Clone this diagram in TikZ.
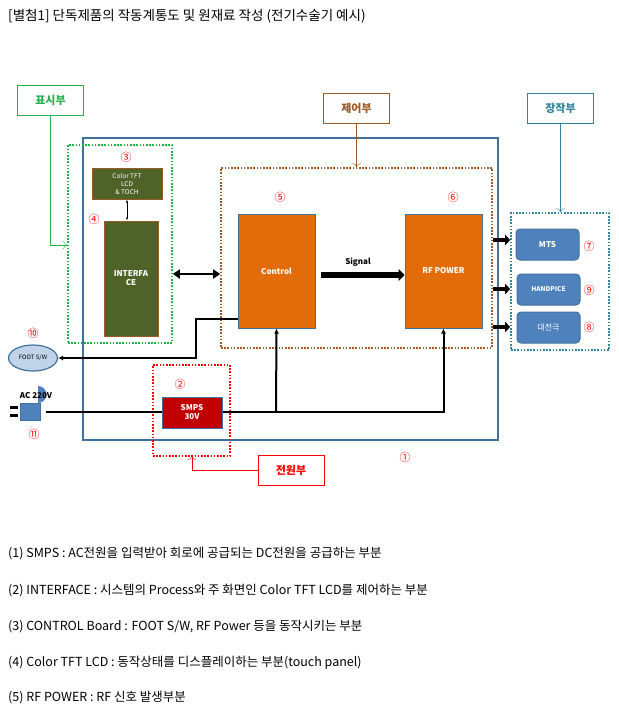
\documentclass[tikz,border=0pt]{standalone}
\usepackage{fontspec}
\setmainfont{Liberation Serif}
\newfontfamily\cjk{Noto Sans CJK KR}
\usetikzlibrary{arrows.meta,shapes.geometric}
\definecolor{gdot}{HTML}{22B14C}
\definecolor{bdot}{HTML}{9C5B26}
\definecolor{sdot}{HTML}{31849B}
\definecolor{mainb}{HTML}{41719C}
\definecolor{orng}{HTML}{E36C0A}
\definecolor{dgrn}{HTML}{4F6228}
\definecolor{smps}{HTML}{C00000}
\definecolor{bbox}{HTML}{4F81BD}
\tikzset{
  every node/.style={font=\cjk},
  dotbox/.style={draw,line width=1.6pt,dash pattern=on 1.6pt off 1.6pt},
  tag/.style={draw,fill=white,minimum width=66pt,minimum height=30pt,font=\cjk\bfseries\fontsize{11}{12}\selectfont},
  num/.style={text=red,font=\cjk\fontsize{11}{12}\selectfont,inner sep=0},
  blk/.style={draw=mainb,line width=1pt,text=white,font=\cjk\bfseries\fontsize{8}{9}\selectfont,align=center,inner sep=0},
  rbox/.style={draw=mainb,fill=bbox,line width=1pt,rounded corners=4pt,text=white,font=\cjk\bfseries\fontsize{8}{9}\selectfont,minimum width=63pt,minimum height=31pt,inner sep=0},
  wire/.style={line width=2pt,-{Latex[length=5pt,width=5pt]}},
  fat/.style={-{Triangle[length=6pt,width=12pt]},line width=6pt},
  txt/.style={anchor=west,font=\cjk\fontsize{12.5}{14}\selectfont,inner sep=0}
}
\begin{document}
\begin{tikzpicture}[x=1pt,y=-1pt]
\useasboundingbox (0,0) rectangle (619,716);
\node[anchor=west,inner sep=0,font=\cjk\fontsize{13.5}{15}\selectfont] (title) at (8,16) {[별첨1] 단독제품의 작동계통도 및 원재료 작성 (전기수술기 예시)};
% main box
\draw[mainb,line width=1.5pt] (83,138) rectangle (498,440);
% dotted groups
\node[dotbox,draw=gdot,minimum width=104pt,minimum height=198pt,inner sep=0] (gdisp) at (120,244) {};
\node[dotbox,draw=bdot,minimum width=271pt,minimum height=180pt,inner sep=0] (gctrl) at (356.5,258) {};
\node[dotbox,draw=sdot,minimum width=98pt,minimum height=137pt,inner sep=0] (gact) at (560,281.5) {};
\node[dotbox,draw=red,line width=1.2pt,minimum width=77pt,minimum height=91pt,inner sep=0] (gpow) at (191.5,410.5) {};
% tags
\node[tag,draw=gdot,text=gdot] (t1) at (50.5,100.5) {표시부};
\node[tag,draw=bdot,text=bdot] (t2) at (356.5,108) {제어부};
\node[tag,draw=sdot,text=sdot] (t3) at (560.5,108) {장작부};
\node[tag,draw=red,text=red] (t4) at (291,470.5) {전원부};
\draw[gdot,-{To[length=4pt]}] (t1.south) |- (gdisp.west|-0,245);
\draw[bdot,-{To[length=4pt]}] (t2.south) -- (gctrl.north-|t2.south);
\draw[sdot,-{To[length=4pt]}] (t3.south) -- (gact.north-|t3.south);
\draw[red,-{To[length=4pt]}] (t4.west) -| (192,456);
% blocks
\node[blk,fill=dgrn,draw=bdot,minimum width=70pt,minimum height=31pt,font=\cjk\fontsize{6.5}{8}\selectfont] (lcd) at (127,183.5) {Color TFT\\LCD\\\& TOCH};
\node[blk,fill=dgrn,draw=bdot,minimum width=54pt,minimum height=115pt] (intf) at (131,278.5) {INTERFA\\CE};
\node[blk,fill=orng,minimum width=77pt,minimum height=114pt] (ctrl) at (276.5,271) {Control};
\node[blk,fill=orng,minimum width=77pt,minimum height=114pt] (rf) at (443.5,271) {RF POWER};
\node[blk,fill=smps,minimum width=60pt,minimum height=31pt] (smps) at (192,412.5) {SMPS\\30V};
\node[rbox] (mts) at (547.5,244.5) {MTS};
\node[rbox,font=\cjk\bfseries\fontsize{6.5}{8}\selectfont] (hand) at (548.5,289.5) {HANDPICE};
\node[rbox,font=\cjk\fontsize{8}{9}\selectfont] (dae) at (548.5,327.5) {대전극};
\node[draw=mainb,fill=bbox!35,line width=1.2pt,ellipse,minimum width=49pt,minimum height=26pt,inner sep=0,font=\cjk\fontsize{6}{7}\selectfont] (foot) at (33,358) {FOOT S/W};
% plug
\fill[black] (10,406) rectangle (18,409);
\fill[black] (10,414) rectangle (18,417);
\node[draw=mainb,fill=bbox,line width=1pt,minimum width=20pt,minimum height=17pt,inner sep=0,
  rounded corners=0pt] (plug) at (30,411.5) {};
\fill[bbox] (38,403) arc (90:-90:8.5 and 8.5) -- cycle;
\coordinate (plugend) at (46,412);
% numbers
\node[num] (n1) at (405,457) {①};
\node[num] (n2) at (180,384) {②};
\node[num] (n3) at (126,157) {③};
\node[num] (n4) at (94,219) {④};
\node[num] (n5) at (280,197) {⑤};
\node[num] (n6) at (453,197) {⑥};
\node[num] (n7) at (589,246) {⑦};
\node[num] (n8) at (589,327) {⑧};
\node[num] (n9) at (589,290) {⑨};
\node[num] (n10) at (33,333) {⑩};
\node[num] (n11) at (34,434) {⑪};
\node[font=\cjk\bfseries\fontsize{8}{9}\selectfont] (ac) at (36,396) {AC 220V};
% connectors
\draw[line width=1pt,{Latex[length=3pt]}-{Latex[length=3pt]}] (lcd.south) -- (lcd.south|-intf.north);
\draw[line width=2.5pt,{Triangle[length=7pt,width=9pt]}-{Triangle[length=7pt,width=9pt]}] (gdisp.east|-0,274) -- (gctrl.west|-0,274);
\draw[fat] (321,275) -- (rf.west|-0,275);
\node[font=\cjk\bfseries\fontsize{8}{9}\selectfont] (sig) at (358,262) {Signal};
\draw[fat,line width=4.5pt,-{Triangle[length=5pt,width=10pt]}] (gctrl.east|-0,240) -- (gact.west|-0,240);
\draw[fat,line width=4.5pt,-{Triangle[length=5pt,width=10pt]}] (gctrl.east|-0,289) -- (gact.west|-0,289);
\draw[fat,line width=4.5pt,-{Triangle[length=5pt,width=10pt]}] (gctrl.east|-0,327) -- (gact.west|-0,327);
\draw[wire] (ctrl.west|-0,319) -- (196,319) -- (196,358) -- (foot.east);
\draw[line width=2pt] (plugend) -- (smps.west|-0,412);
\draw[wire] (smps.east|-0,412) -| (rf.south);
\draw[wire] (276,412) -- (ctrl.south);
% bottom text
\node[txt] (l1) at (8,554) {(1) SMPS : AC전원을 입력받아 회로에 공급되는 DC전원을 공급하는 부분};
\node[txt] (l2) at (8,591) {(2) INTERFACE : 시스템의 Process와 주 화면인 Color TFT LCD를 제어하는 부분};
\node[txt] (l3) at (8,627) {(3) CONTROL Board : FOOT S/W, RF Power 등을 동작시키는 부분};
\node[txt] (l4) at (8,663) {(4) Color TFT LCD : 동작상태를 디스플레이하는 부분(touch panel)};
\node[txt] (l5) at (8,698) {(5) RF POWER : RF 신호 발생부분};
\end{tikzpicture}
\end{document}
